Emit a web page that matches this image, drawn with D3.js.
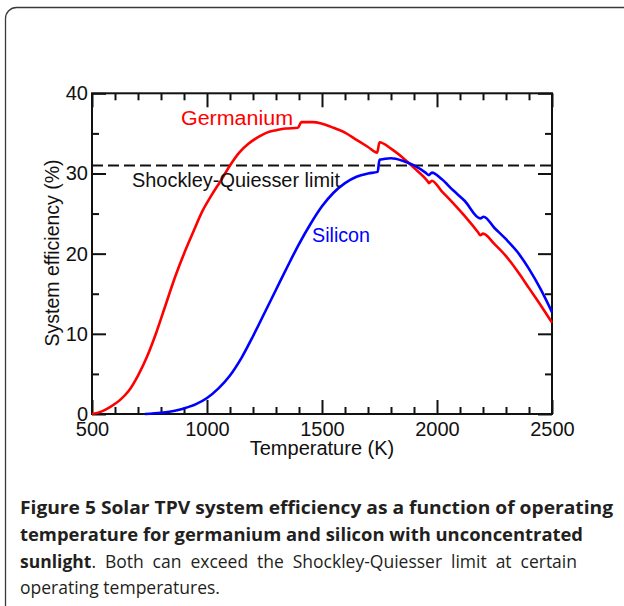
<!DOCTYPE html>
<html>
<head>
<meta charset="utf-8">
<script src="https://cdn.jsdelivr.net/npm/d3@7"></script>
<style>
  html, body { margin: 0; padding: 0; background: #fff; }
  svg { display: block; }
</style>
</head>
<body>
<svg id="chart" width="624" height="606"></svg>
<script>
// ---- data ----
const geTemps = [500,540,580,620,660,700,740,780,820,860,900,940,980,1020,1060,1100,1140,1180,1220,1260,1300,1340,1395,1410,1460,1500,1550,1600,1650,1700,1740,1750,1800,1850,1900,1960,1965,1978,2020,2070,2120,2180,2188,2200,2250,2300,2350,2400,2450,2500];
const geEff   = [0.0,0.3,0.9,1.7,2.9,4.8,7.2,10.2,13.6,17.0,20.0,22.7,25.3,27.3,29.1,31.0,32.6,33.7,34.5,35.1,35.4,35.6,35.7,36.4,36.4,36.2,35.7,35.1,34.2,33.3,32.6,33.9,33.1,32.0,30.7,29.0,28.8,29.1,27.8,26.3,24.7,22.6,22.3,22.5,21.2,19.7,17.8,15.7,13.6,11.4];
const siTemps = [730,800,860,900,950,1000,1050,1100,1150,1200,1250,1300,1350,1400,1450,1500,1550,1600,1650,1700,1742,1750,1800,1850,1900,1950,1964,1978,2020,2070,2120,2188,2203,2250,2300,2350,2400,2450,2500];
const siEff   = [0.0,0.15,0.4,0.7,1.2,2.0,3.2,4.8,7.0,9.7,12.6,15.5,18.4,21.2,23.7,25.9,27.6,28.8,29.6,30.0,30.2,31.7,31.9,31.6,31.0,30.1,29.8,30.1,29.3,27.9,26.6,24.4,24.6,23.2,21.8,20.2,18.1,15.6,12.7];
const sqLimit = 31;
const xMajorTicks = [500,1000,1500,2000,2500];
const xMinorTicks = [600,700,800,900,1100,1200,1300,1400,1600,1700,1800,1900,2100,2200,2300,2400];
const yMajorTicks = [0,10,20,30,40];
const yMinorTicks = [5,15,25,35];
const seriesNames = ["Germanium","Silicon"];
const limitLabel = "Shockley-Quiesser limit";
const xTitle = "Temperature (K)";
const yTitle = "System efficiency (%)";

// ---- layout ----
const svg = d3.select("#chart");
const L = 92, R = 552, T = 93.3, B = 414;
const x = d3.scaleLinear().domain([500,2500]).range([L,R]);
const y = d3.scaleLinear().domain([0,40]).range([B,T]);
const axisFont = "'Liberation Sans', Arial, sans-serif";

// panel border
svg.append("rect").attr("x",5.5).attr("y",7.5).attr("width",700).attr("height",700)
  .attr("rx",11).attr("fill","none").attr("stroke","#3a3a3a").attr("stroke-width",1.3);

function styleAxis(g){
  g.select(".domain").remove();
  g.selectAll("line").attr("stroke","#111").attr("stroke-width",2);
  g.selectAll("text").attr("font-family",axisFont).attr("font-size",20).attr("fill","#111");
}

// bottom
svg.append("g").attr("transform",`translate(0,${B})`)
  .call(d3.axisBottom(x).tickValues(xMajorTicks).tickSize(-14).tickPadding(8).tickFormat(d3.format("d")))
  .call(styleAxis);
svg.append("g").attr("transform",`translate(0,${B})`)
  .call(d3.axisBottom(x).tickValues(xMinorTicks).tickSize(-7).tickFormat(""))
  .call(styleAxis);
// top
svg.append("g").attr("transform",`translate(0,${T})`)
  .call(d3.axisTop(x).tickValues(xMajorTicks).tickSize(-14).tickFormat(""))
  .call(styleAxis);
svg.append("g").attr("transform",`translate(0,${T})`)
  .call(d3.axisTop(x).tickValues(xMinorTicks).tickSize(-7).tickFormat(""))
  .call(styleAxis);
// left
svg.append("g").attr("transform",`translate(${L},0)`)
  .call(d3.axisLeft(y).tickValues(yMajorTicks).tickSize(-14).tickPadding(4).tickFormat(d3.format("d")))
  .call(styleAxis);
svg.append("g").attr("transform",`translate(${L},0)`)
  .call(d3.axisLeft(y).tickValues(yMinorTicks).tickSize(-7).tickFormat(""))
  .call(styleAxis);
// right
svg.append("g").attr("transform",`translate(${R},0)`)
  .call(d3.axisRight(y).tickValues(yMajorTicks).tickSize(-14).tickFormat(""))
  .call(styleAxis);
svg.append("g").attr("transform",`translate(${R},0)`)
  .call(d3.axisRight(y).tickValues(yMinorTicks).tickSize(-7).tickFormat(""))
  .call(styleAxis);

// frame
svg.append("rect").attr("x",L).attr("y",T).attr("width",R-L).attr("height",B-T)
  .attr("fill","none").attr("stroke","#111").attr("stroke-width",2);

// dashed limit
svg.append("line").attr("x1",x(500)).attr("x2",x(2500)).attr("y1",y(sqLimit)).attr("y2",y(sqLimit))
  .attr("stroke","#111").attr("stroke-width",2).attr("stroke-dasharray","11,5");

// curves
const line = d3.line().x(d=>x(d[0])).y(d=>y(d[1])).curve(d3.curveMonotoneX);
const geData = geTemps.map((t,i)=>[t,geEff[i]]);
const siData = siTemps.map((t,i)=>[t,siEff[i]]);
svg.append("path").datum(geData).attr("d",line).attr("fill","none").attr("stroke","#ff0000").attr("stroke-width",2.6).attr("stroke-linejoin","round");
svg.append("path").datum(siData).attr("d",line).attr("fill","none").attr("stroke","#0000ff").attr("stroke-width",2.6).attr("stroke-linejoin","round");

// labels
svg.append("text").attr("x",181).attr("y",125).text(seriesNames[0])
  .attr("font-family",axisFont).attr("font-size",20).attr("fill","#ff0000").attr("textLength",112).attr("lengthAdjust","spacingAndGlyphs");
svg.append("text").attr("x",312).attr("y",242).text(seriesNames[1])
  .attr("font-family",axisFont).attr("font-size",20).attr("fill","#0000ff").attr("textLength",58).attr("lengthAdjust","spacingAndGlyphs");
svg.append("text").attr("x",132).attr("y",187).text(limitLabel)
  .attr("font-family",axisFont).attr("font-size",20).attr("fill","#111").attr("textLength",208).attr("lengthAdjust","spacingAndGlyphs");

svg.append("text").attr("x",(L+R)/2).attr("y",455).attr("text-anchor","middle").text(xTitle)
  .attr("font-family",axisFont).attr("font-size",20).attr("fill","#111");
svg.append("text").attr("transform","translate(59,253) rotate(-90)").attr("text-anchor","middle").text(yTitle)
  .attr("font-family",axisFont).attr("font-size",19.5).attr("fill","#111");

// caption
const capFont = "'Open Sans', 'Noto Sans', sans-serif";
const capFS = 17.5;
function capText(str, xx, yy, bold){
  return svg.append("text").attr("x",xx).attr("y",yy).text(str)
    .attr("font-family",capFont).attr("font-size",capFS).attr("font-weight",bold?"bold":"normal")
    .attr("fill","#231f20");
}
capText("Figure 5 Solar TPV system efficiency as a function of operating",20,514,true)
  .attr("textLength",593).attr("lengthAdjust","spacingAndGlyphs");
capText("temperature for germanium and silicon with unconcentrated",20,541,true)
  .attr("textLength",563).attr("lengthAdjust","spacingAndGlyphs");
const sun = capText("sunlight",20,567.5,true);
const sunW = sun.node().getComputedTextLength();
const rest = ". Both can exceed the Shockley-Quiesser limit at certain";
const restT = capText(rest,20+sunW,567.5,false);
const nat = restT.node().getComputedTextLength();
const spaces = (rest.match(/ /g)||[]).length;
restT.style("word-spacing", ((577-(20+sunW)) - nat)/spaces + "px");
capText("operating temperatures.",20,593.5,false);
</script>
</body>
</html>
